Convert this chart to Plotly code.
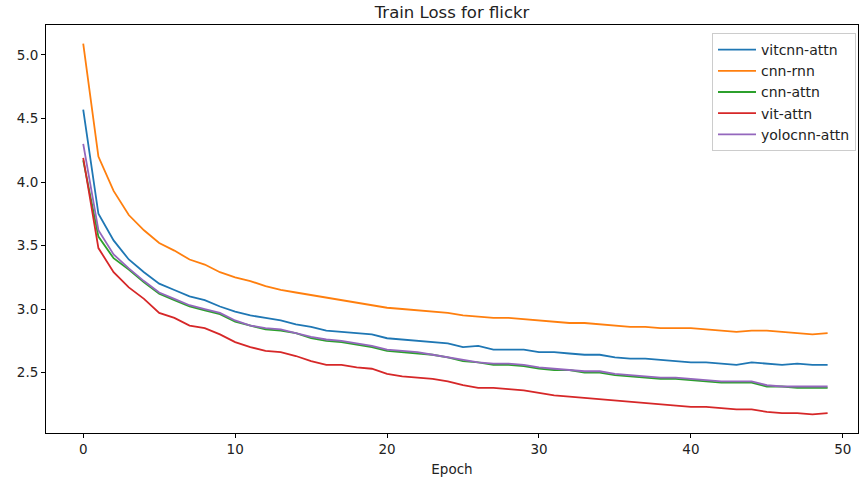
import plotly.graph_objects as go

epochs = list(range(50))

vitcnn_attn = [4.57, 3.75, 3.54, 3.39, 3.29, 3.20, 3.15, 3.10, 3.07, 3.02,
               2.98, 2.95, 2.93, 2.91, 2.88, 2.86, 2.83, 2.82, 2.81, 2.80,
               2.77, 2.76, 2.75, 2.74, 2.73, 2.70, 2.71, 2.68, 2.68, 2.68,
               2.66, 2.66, 2.65, 2.64, 2.64, 2.62, 2.61, 2.61, 2.60, 2.59,
               2.58, 2.58, 2.57, 2.56, 2.58, 2.57, 2.56, 2.57, 2.56, 2.56]

cnn_rnn = [5.09, 4.20, 3.93, 3.74, 3.62, 3.52, 3.46, 3.39, 3.35, 3.29,
           3.25, 3.22, 3.18, 3.15, 3.13, 3.11, 3.09, 3.07, 3.05, 3.03,
           3.01, 3.00, 2.99, 2.98, 2.97, 2.95, 2.94, 2.93, 2.93, 2.92,
           2.91, 2.90, 2.89, 2.89, 2.88, 2.87, 2.86, 2.86, 2.85, 2.85,
           2.85, 2.84, 2.83, 2.82, 2.83, 2.83, 2.82, 2.81, 2.80, 2.81]

cnn_attn = [4.17, 3.57, 3.40, 3.31, 3.21, 3.12, 3.07, 3.02, 2.99, 2.96,
            2.90, 2.87, 2.84, 2.83, 2.81, 2.77, 2.75, 2.74, 2.72, 2.70,
            2.67, 2.66, 2.65, 2.64, 2.62, 2.59, 2.58, 2.56, 2.56, 2.55,
            2.53, 2.52, 2.52, 2.50, 2.50, 2.48, 2.47, 2.46, 2.45, 2.45,
            2.44, 2.43, 2.42, 2.42, 2.42, 2.39, 2.39, 2.38, 2.38, 2.38]

vit_attn = [4.19, 3.48, 3.29, 3.17, 3.08, 2.97, 2.93, 2.87, 2.85, 2.80,
            2.74, 2.70, 2.67, 2.66, 2.63, 2.59, 2.56, 2.56, 2.54, 2.53,
            2.49, 2.47, 2.46, 2.45, 2.43, 2.40, 2.38, 2.38, 2.37, 2.36,
            2.34, 2.32, 2.31, 2.30, 2.29, 2.28, 2.27, 2.26, 2.25, 2.24,
            2.23, 2.23, 2.22, 2.21, 2.21, 2.19, 2.18, 2.18, 2.17, 2.18]

yolocnn_attn = [4.30, 3.62, 3.43, 3.32, 3.22, 3.13, 3.08, 3.03, 3.00, 2.97,
                2.91, 2.87, 2.85, 2.84, 2.81, 2.78, 2.76, 2.75, 2.73, 2.71,
                2.68, 2.67, 2.66, 2.64, 2.62, 2.60, 2.58, 2.57, 2.57, 2.56,
                2.54, 2.53, 2.52, 2.51, 2.51, 2.49, 2.48, 2.47, 2.46, 2.46,
                2.45, 2.44, 2.43, 2.43, 2.43, 2.40, 2.39, 2.39, 2.39, 2.39]

series_names = ["vitcnn-attn", "cnn-rnn", "cnn-attn", "vit-attn", "yolocnn-attn"]
series_values = [vitcnn_attn, cnn_rnn, cnn_attn, vit_attn, yolocnn_attn]
colors = ["#1f77b4", "#ff7f0e", "#2ca02c", "#d62728", "#9467bd"]

x_ticks = [0, 10, 20, 30, 40, 50]
y_ticks = [2.5, 3.0, 3.5, 4.0, 4.5, 5.0]
y_tick_labels = ["2.5", "3.0", "3.5", "4.0", "4.5", "5.0"]

fig = go.Figure()
for name, vals, c in zip(series_names, series_values, colors):
    fig.add_trace(go.Scatter(x=epochs, y=vals, mode="lines", name=name,
                             line=dict(color=c, width=1.8)))

txt = "#222222"
axis_common = dict(showline=True, linecolor="black", linewidth=1, mirror=True,
                   showgrid=False, zeroline=False, ticks="outside", ticklen=4,
                   tickcolor="black", tickfont=dict(family="DejaVu Sans", size=13.5, color=txt))

fig.update_layout(
    width=859, height=484,
    margin=dict(l=46, r=1, t=25, b=51, autoexpand=False),
    paper_bgcolor="white", plot_bgcolor="white",
    title=dict(text="Train Loss for flickr", x=0.5 * (46 + 858) / 859, xanchor="center",
               y=1 - 12 / 484, yanchor="middle",
               font=dict(family="DejaVu Sans", size=16.5, color=txt)),
    xaxis=dict(range=[-2.45, 51.0], tickvals=x_ticks,
               title=dict(text="Epoch", font=dict(family="DejaVu Sans", size=13.5, color=txt), standoff=8),
               **axis_common),
    yaxis=dict(range=[2.024, 5.236], tickvals=y_ticks, ticktext=y_tick_labels, **axis_common),
    legend=dict(x=(712 - 46) / 812, xanchor="left", y=(433 - 33) / 408, yanchor="top",
                bgcolor="rgba(255,255,255,0.8)", bordercolor="#cccccc", borderwidth=1,
                font=dict(family="DejaVu Sans", size=14, color=txt),
                tracegroupgap=0, itemwidth=38),
    showlegend=True,
)

fig.write_html("out.html", config={"displayModeBar": False},
               post_script="document.body.style.margin='0';document.body.style.padding='0';")
